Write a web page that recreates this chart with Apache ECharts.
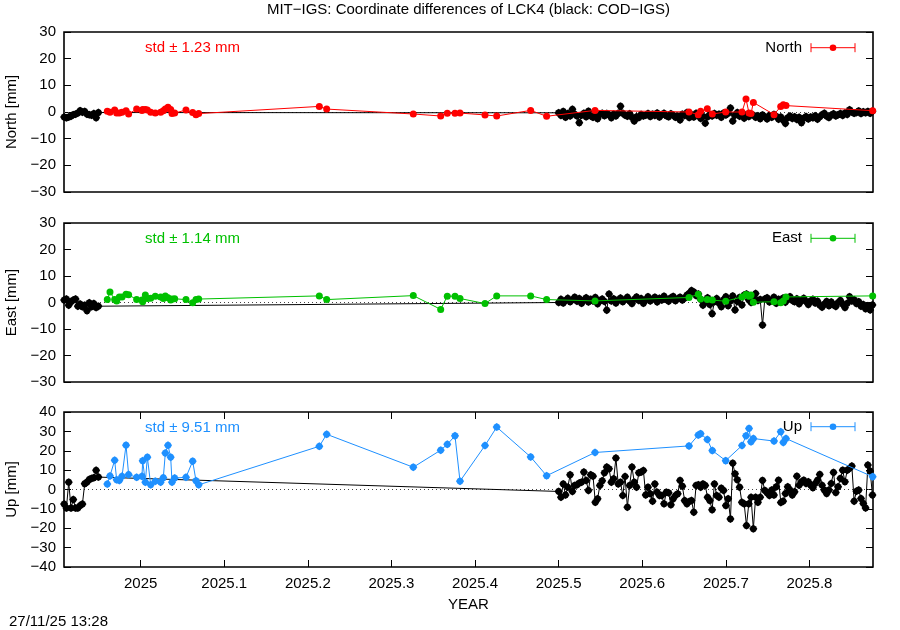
<!DOCTYPE html>
<html>
<head>
<meta charset="utf-8">
<script src="https://cdn.jsdelivr.net/npm/echarts@6/dist/echarts.min.js"></script>
<style>html,body{margin:0;padding:0;background:#fff}#c{width:900px;height:630px}</style>
</head>
<body>
<div id="c"></div>
<script>
// ---------------- DATA ----------------
// COD-IGS (black): consecutive daily solutions, given as day-of-year
const codEarlyYear = 2024, codEarlyFirstDoy = 333, codEarlyLastDoy = 348;
const codLateYear = 2025, codLateFirstDoy = 183, codLateLastDoy = 320;

const codNorthEarly = [-1.9,-2.2,-1.9,-1.6,-1.0,-0.8,-0.4,0.5,-0.1,0.2,-0.8,-1.0,-1.2,-0.6,-2.2,-0.2];
const codEastEarly  = [0.9,1.3,-1.0,0.25,0.9,1.3,-1.4,-0.6,-1.6,-1.0,-3.1,-0.1,-1.6,-0.4,-1.9,-1.4];
const codUpEarly    = [-7.5,-9.6,3.8,-9.6,-5.2,-9.6,-9.6,-8.3,-7.5,3.0,3.8,5.2,5.7,6.1,9.9,6.4];

const codNorthLate = [
 -0.3,-1.3,0.2,-2.0,-0.6,-1.5,1.0,-0.8,-1.5,-4.0,-1.2,-0.5,-1.8,0.3,-1.5,-2.0,-0.8,-2.5,-0.9,-0.5,
 -1.4,-0.6,-1.0,-2.2,-0.8,-1.5,-0.5,2.2,-0.5,-1.2,-1.6,-0.7,-2.0,-3.4,-1.8,-2.1,-0.9,-1.5,-1.2,-0.6,
 -1.7,-0.8,-1.3,-0.4,-1.9,-1.0,-0.5,-1.4,-1.8,-0.7,-1.2,-2.0,-1.5,-3.0,-0.8,-1.3,-0.2,-2.1,-1.0,-1.9,
 -0.5,-1.1,-2.4,-1.6,-4.2,-1.8,-0.9,-1.5,-0.6,-1.2,-0.8,-2.0,-0.4,-1.1,-0.5,1.5,-3.4,-1.2,-0.2,-1.6,
 -0.8,-2.3,-1.0,-1.7,-0.9,-1.2,-2.0,-1.4,-2.5,-1.1,-1.8,-2.6,-1.3,-2.0,-0.9,-1.6,-2.7,-1.9,-3.0,-4.3,
 -2.2,-1.5,-2.4,-1.8,-2.8,-2.0,-4.0,-2.3,-1.7,-2.6,-1.9,-2.2,-1.4,-2.7,-1.8,-1.0,-0.5,-1.6,-2.1,-1.2,
 -0.7,-1.5,-1.0,-0.6,-1.3,-0.4,-0.9,0.8,0.0,-0.5,-0.2,0.4,-0.6,0.1,-0.3,0.2,-0.5,0.3];
const codEastLate = [
 0.0,1.2,-0.2,0.8,1.6,0.3,1.0,2.0,0.5,1.5,-0.3,0.9,1.8,0.2,1.2,0.6,1.9,-0.5,0.7,1.3,
 0.4,-2.9,3.2,0.6,1.4,-0.2,0.9,1.7,0.3,1.1,2.0,0.5,-0.4,1.2,2.1,0.8,1.5,-0.3,1.0,2.2,
 0.6,1.3,2.0,0.2,1.6,0.9,2.4,1.1,0.5,1.8,2.3,0.7,1.4,2.0,0.9,1.6,2.8,3.5,4.5,4.0,
 2.6,3.2,1.2,-1.0,0.5,1.8,-0.8,-4.2,0.3,1.5,-0.2,-1.6,1.0,2.2,-1.2,0.6,2.5,-2.8,0.4,1.9,
 -0.9,2.8,3.2,1.0,0.0,2.4,3.4,0.8,1.1,-8.5,1.3,1.8,0.2,0.9,2.0,-0.3,1.2,0.6,1.7,0.1,
 1.1,2.2,0.8,0.3,1.4,-0.5,0.7,1.6,0.4,-0.8,0.6,1.2,-0.2,0.5,-1.0,-1.8,-0.6,0.4,-1.2,0.2,
 -0.9,-1.5,0.0,0.8,-0.6,-1.9,-0.3,2.2,0.6,1.0,-0.4,0.3,-1.4,-0.8,-2.4,-1.2,-2.8,-0.9];
const codUpLate = [
 -1.0,-4.0,2.9,-2.8,1.2,7.6,-1.0,2.1,2.4,3.3,3.8,9.0,4.7,-0.5,7.6,6.9,-6.6,-4.8,2.1,4.5,
 8.6,11.6,10.7,3.8,5.5,16.2,2.9,3.8,-3.1,6.7,-9.1,2.1,11.6,3.8,1.2,8.6,9.0,9.8,-2.8,1.2,
 -2.2,-6.0,2.9,-1.4,-3.1,
 -3.1,-7.4,-1.4,-1.7,-7.9,-4.8,-3.1,-2.2,4.7,1.7,-5.7,-7.4,-6.2,-5.7,-11.7,2.1,2.4,1.2,2.9,2.1,
 -4.0,-5.7,-10.5,2.9,-3.1,-4.0,0.7,-0.5,-8.3,-4.8,-15.2,13.6,8.1,5.0,1.2,-6.6,-7.4,-18.6,-7.4,-4.0,
 -20.3,-4.0,-6.6,-4.0,4.7,-0.5,-1.7,-3.1,
 -0.3,-2.9,1.4,4.8,-6.7,-6.0,-2.1,1.4,-0.3,-2.9,-1.2,6.9,2.2,4.0,4.8,3.1,4.0,2.2,0.9,3.1,
 4.8,7.8,2.2,-0.3,-2.1,-0.3,3.1,8.8,-1.6,1.4,5.7,10.0,4.0,10.0,10.9,12.1,-6.0,-0.9,-0.3,-4.7,
 -7.2,-9.5,12.6,9.5,-2.9];

// MIT-IGS (coloured): epochs in decimal years
const mitYears = [
 2024.9601,2024.9633,2024.9689,2024.9713,2024.9745,2024.9777,2024.9825,2024.9856,2024.9952,2025.0016,
 2025.0024,2025.0056,2025.0080,2025.0120,2025.0175,2025.0239,2025.0271,2025.0295,2025.0327,2025.0359,
 2025.0375,2025.0407,2025.0542,2025.0622,2025.0662,2025.0694,2025.2137,2025.2225,2025.3261,2025.3589,
 2025.3668,2025.3760,2025.3820,2025.4119,2025.4259,2025.4665,2025.4856,2025.5435,2025.6559,2025.6670,
 2025.6698,2025.6778,2025.6838,2025.6998,2025.7193,2025.7241,2025.7277,2025.7301,2025.7329,2025.7576,
 2025.7656,2025.7687,2025.7719,2025.8756];
const mitNorth = [
 0.25,-0.1,0.75,-0.4,-0.4,-0.1,0.5,-0.75,1.1,0.6,0.9,0.9,0.75,-0.1,-0.4,-0.1,0.5,1.1,1.75,0.9,
 -0.6,-0.4,0.75,-0.2,-1.0,-0.6,2.1,1.1,-0.75,-1.5,-0.5,-0.5,-0.4,-1.1,-1.5,0.6,-1.6,0.6,0.0,-1.0,
 0.25,1.2,-0.75,0.0,0.0,4.9,-0.4,-0.6,3.6,-1.0,2.1,2.7,2.4,0.5];
const mitEast = [
 1.1,4.0,1.1,0.6,2.1,2.1,3.1,2.9,1.1,0.9,0.3,2.8,1.5,1.6,2.4,2.1,1.5,2.5,1.8,0.9,
 1.3,1.4,1.1,-0.1,1.1,1.3,2.5,1.1,2.6,-2.6,2.4,2.4,1.5,-0.4,2.5,2.5,1.1,0.6,1.9,3.1,
 1.3,1.1,0.9,0.5,2.1,3.0,2.4,2.8,0.1,0.3,-0.1,0.6,2.1,2.5];
const mitUp = [
 2.8,7.0,15.1,5.0,4.7,6.8,22.9,7.7,6.3,6.8,14.8,3.8,16.7,2.4,4.3,3.8,6.1,18.8,22.8,16.7,
 3.8,5.9,6.3,14.6,4.5,2.4,22.3,28.5,11.5,20.3,23.3,27.7,4.3,22.7,32.2,16.8,7.1,19.1,22.5,28.1,
 28.8,25.8,20.1,14.9,22.7,27.7,31.5,24.6,26.3,25.0,29.8,24.3,26.3,6.6];

const stdTexts = ['std \u00b1 1.23 mm', 'std \u00b1 1.14 mm', 'std \u00b1 9.51 mm'];
const panelNames = ['North', 'East', 'Up'];
const yUnits = ['North [mm]', 'East [mm]', 'Up [mm]'];
const yRanges = [[-30, 30], [-30, 30], [-40, 40]];
const xTicks = [2025.0, 2025.1, 2025.2, 2025.3, 2025.4, 2025.5, 2025.6, 2025.7, 2025.8];
const xRange = [2024.9083, 2025.876];
const titleText = 'MIT\u2212IGS: Coordinate differences of LCK4 (black: COD\u2212IGS)';
const stampText = '27/11/25 13:28';

// ---------------- BUILD ----------------
function isLeap(y){return (y%4===0&&y%100!==0)||y%400===0;}
function doyToYear(y,d){return y+(d-0.5)/(isLeap(y)?366:365);}
function codSeries(early, late){
  const out=[];
  for(let d=codEarlyFirstDoy, i=0; d<=codEarlyLastDoy; d++, i++) out.push([doyToYear(codEarlyYear,d), early[i]]);
  for(let d=codLateFirstDoy, i=0; d<=codLateLastDoy; d++, i++) out.push([doyToYear(codLateYear,d), late[i]]);
  return out;
}
const codData = [codSeries(codNorthEarly,codNorthLate), codSeries(codEastEarly,codEastLate), codSeries(codUpEarly,codUpLate)];
const mitVals = [mitNorth, mitEast, mitUp];
const mitData = mitVals.map(v => mitYears.map((x,i)=>[x, v[i]]));
const colors = ['#ff0000', '#00c000', '#1e90ff'];

const FONT = '"Liberation Sans", Arial, Helvetica, sans-serif';
const FS = 15;
const grids = [
  {left:64, top:32, width:809, height:160},
  {left:64, top:223, width:809, height:159},
  {left:64, top:412, width:809, height:155}
];
const blob = 'path://M0,-10 L6,-6.5 L10,0 L6,6.5 L0,10 L-6,6.5 L-10,0 L-6,-6.5 Z';
const minusFmt = v => (v < 0 ? '\u2212' + Math.abs(v) : String(v));

const xAxes = [], yAxes = [], series = [];
grids.forEach((g, p) => {
  const bottom = (p === 2);
  xAxes.push({
    type:'value', gridIndex:p, position:'bottom', min:xRange[0], max:xRange[1],
    axisLine:{show:false, onZero:false}, splitLine:{show:false},
    axisTick:{show:bottom, inside:true, length:7, customValues:xTicks, lineStyle:{color:'#000',width:1}},
    axisLabel:{show:bottom, customValues:xTicks, color:'#000', fontSize:FS, fontFamily:FONT, margin:9,
      formatter: v => String(Math.round(v*10)/10)},
    name: bottom ? 'YEAR' : '', nameLocation:'middle', nameGap:30,
    nameTextStyle:{color:'#000', fontSize:FS, fontFamily:FONT}
  });
  if (bottom) {
    xAxes.push({
      type:'value', gridIndex:p, position:'top', min:xRange[0], max:xRange[1],
      axisLine:{show:false, onZero:false}, splitLine:{show:false},
      axisTick:{show:true, inside:true, length:7, customValues:xTicks, lineStyle:{color:'#000',width:1}},
      axisLabel:{show:false, customValues:xTicks}
    });
  }
  const r = yRanges[p];
  yAxes.push({
    type:'value', gridIndex:p, position:'left', min:r[0], max:r[1], interval:10,
    axisLine:{show:false, onZero:false}, splitLine:{show:false},
    axisTick:{show:true, inside:true, length:7, lineStyle:{color:'#000',width:1}},
    axisLabel:{color:'#000', fontSize:FS, fontFamily:FONT, margin:8, formatter:minusFmt},
    name:yUnits[p], nameLocation:'middle', nameGap:41,
    nameTextStyle:{color:'#000', fontSize:FS, fontFamily:FONT}
  });
  yAxes.push({
    type:'value', gridIndex:p, position:'right', min:r[0], max:r[1], interval:10,
    axisLine:{show:false, onZero:false}, splitLine:{show:false},
    axisTick:{show:true, inside:true, length:7, lineStyle:{color:'#000',width:1}},
    axisLabel:{show:false}
  });
});
const xIdx = [0, 1, 2];
grids.forEach((g, p) => {
  series.push({
    type:'line', name:'COD-IGS '+panelNames[p], xAxisIndex:xIdx[p], yAxisIndex:p*2,
    data:codData[p], symbol:blob, symbolSize:8, showSymbol:true, showAllSymbol:true,
    lineStyle:{color:'#000', width:1}, itemStyle:{color:'#000'}, z:2, silent:true,
    markLine:{silent:true, symbol:['none','none'], label:{show:false},
      lineStyle:{type:[1,3], color:'#444', width:1}, data:[{yAxis:0}], z:1}
  });
  series.push({
    type:'line', name:panelNames[p], xAxisIndex:xIdx[p], yAxisIndex:p*2,
    data:mitData[p], symbol: p===2 ? blob : 'circle', symbolSize: p===2 ? 8 : 7,
    showSymbol:true, showAllSymbol:true,
    lineStyle:{color:colors[p], width:1}, itemStyle:{color:colors[p]}, z:3, silent:true
  });
});

// texts & legend samples
const graphics = [];
graphics.push({type:'text', style:{text:titleText, x:468.5, y:10, textAlign:'center', textVerticalAlign:'middle',
  fill:'#000', font:FS+'px '+FONT}});
graphics.push({type:'text', style:{text:stampText, x:9, y:622, textAlign:'left', textVerticalAlign:'middle',
  fill:'#000', font:FS+'px '+FONT}});
const stdY = [48, 239, 428];
const legY = [47.7, 238.3, 426.7];
grids.forEach((g, p) => {
  graphics.push({type:'text', style:{text:stdTexts[p], x:145, y:stdY[p], textAlign:'left', textVerticalAlign:'middle',
    fill:colors[p], font:FS+'px '+FONT}});
  const y = legY[p];
  graphics.push({type:'text', style:{text:panelNames[p], x:802, y:y, textAlign:'right', textVerticalAlign:'middle',
    fill:'#000', font:FS+'px '+FONT}});
  graphics.push({type:'line', shape:{x1:811,y1:y,x2:855,y2:y}, style:{stroke:colors[p], lineWidth:1}});
  graphics.push({type:'line', shape:{x1:811,y1:y-4.5,x2:811,y2:y+4.5}, style:{stroke:colors[p], lineWidth:1}});
  graphics.push({type:'line', shape:{x1:855,y1:y-4.5,x2:855,y2:y+4.5}, style:{stroke:colors[p], lineWidth:1}});
  graphics.push({type:'circle', shape:{cx:833,cy:y,r:3.3}, style:{fill:colors[p]}});
});

const chart = echarts.init(document.getElementById('c'), null, {renderer:'canvas'});
chart.setOption({
  animation:false,
  backgroundColor:'#fff',
  grid: grids.map(g => Object.assign({show:true, borderColor:'#000', borderWidth:1.6, backgroundColor:'transparent',
    containLabel:false, outerBoundsMode:'none'}, g)),
  xAxis: xAxes,
  yAxis: yAxes,
  series: series,
  graphic: graphics
});
</script>
</body>
</html>
